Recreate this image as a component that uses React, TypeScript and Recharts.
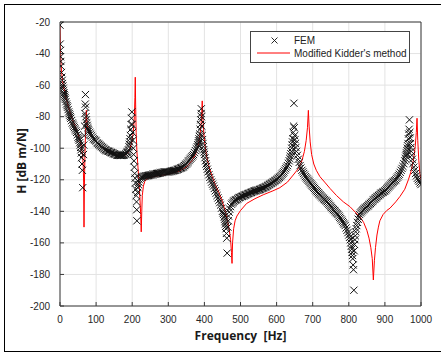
import { ComposedChart, Scatter, Line, XAxis, YAxis, CartesianGrid } from 'recharts';

// FEM results (x markers), [frequency Hz, H dB], split by mode
const femFirst: [number, number][] = [
  [0, -22], [0.5, -34], [1, -38], [1.5, -42], [2, -45], [3, -48], [4, -52], [5, -55], [6, -57], [7, -59],
  [8, -60.5], [9, -62], [10, -63.5], [11, -65], [12, -66], [13, -67], [14, -68], [15, -69], [16.5, -70.5], [18, -72],
  [19.5, -73], [21, -74], [22.5, -75.5], [24, -77], [25.5, -78], [27, -79], [28.5, -80], [30, -81], [32, -82.5], [34, -84],
  [36, -85], [38, -86], [40, -87], [42, -88], [44, -89], [46, -90], [48, -91.5], [50, -93], [51.5, -94], [53, -95],
  [54.5, -96.5], [56, -98], [57, -99.5], [58, -101], [59, -103], [60, -106], [61, -110], [62, -114], [63, -125], [65, -104],
  [66, -98], [67, -92], [68, -86], [69, -78], [70, -72], [70.5, -66], [71, -74], [72, -80], [73, -82], [74, -84],
  [75.5, -85.5], [77, -87], [78.5, -88], [80, -89], [82.5, -90], [85, -91], [87.5, -92], [90, -93], [92.5, -94], [95, -94.5],
  [97.5, -95], [100, -95.5], [102.5, -96.5], [105, -97], [107.5, -97.5], [110, -98], [112.5, -98.5], [115, -99], [117.5, -99.5], [120, -100],
  [122.5, -100.5], [125, -101], [127.5, -101.3], [130, -101.5], [132.5, -101.8], [135, -102], [137.5, -102.3], [140, -102.5], [142.5, -102.8], [145, -103],
  [147.5, -103.3], [150, -103.5], [152.5, -103.8], [155, -104], [157.5, -104.3], [160, -104.5], [162.5, -104.5], [165, -104.5], [167.5, -104.6], [170, -104.6],
  [172.5, -104.5], [175, -104.5], [177.5, -104.3], [180, -104], [182.5, -103.6], [185, -103], [186.5, -102.5], [188, -102], [189.5, -101], [191, -99],
  [192, -97.5], [193, -96], [194, -94], [195, -92], [196, -88], [197, -85], [198, -81], [199, -77], [200, -85], [201, -90],
  [202, -95], [203, -100], [204, -104], [205, -108], [206, -112], [207, -116], [208, -119], [209, -122], [210, -126], [211, -130],
  [212, -134], [212.5, -139], [213, -146],
];

const femSecond: [number, number][] = [
  [215, -128], [216, -125], [217, -123], [218.5, -121.5], [220, -120], [222.5, -119], [225, -118.5], [227.5, -118.2], [230, -118], [232.5, -117.8],
  [235, -117.7], [237.5, -117.6], [240, -117.5], [242.5, -117.4], [245, -117.3], [247.5, -117.1], [250, -117], [252.5, -116.9], [255, -116.8], [257.5, -116.6],
  [260, -116.5], [262.5, -116.4], [265, -116.3], [267.5, -116.1], [270, -116], [272.5, -115.9], [275, -115.8], [277.5, -115.6], [280, -115.5], [282.5, -115.4],
  [285, -115.3], [287.5, -115.1], [290, -115], [292.5, -115], [295, -115], [297.5, -115], [300, -115], [302.5, -114.9], [305, -114.8], [307.5, -114.6],
  [310, -114.5], [312.5, -114.4], [315, -114.2], [317.5, -114.1], [320, -114], [322.5, -113.8], [325, -113.5], [327.5, -113.3], [330, -113], [332.5, -112.8],
  [335, -112.5], [337.5, -112.3], [340, -112], [342.5, -111.5], [345, -111], [347.5, -110.5], [350, -110], [352.5, -109.3], [355, -108.5], [357.5, -107.8],
  [360, -107], [362.5, -106.3], [365, -105.5], [367.5, -104.8], [370, -104], [372.5, -102.8], [375, -101.5], [377.5, -100.3], [380, -99], [381.5, -97.8],
  [383, -96.5], [384, -95.3], [385, -94], [386, -92.5], [387, -91], [388, -88], [389, -85], [390, -82], [391, -78], [391.5, -75],
  [392, -80], [393, -86], [394, -92], [395, -94.5], [396, -97], [397, -99], [398, -101], [399, -102.5], [400, -104], [401.5, -106],
  [403, -108], [404.5, -110], [406, -111.5], [408, -113.3], [410, -115], [412.5, -116.8], [415, -118.5], [417.5, -120], [420, -121.5], [422.5, -122.8],
  [425, -124], [427.5, -125.5], [430, -127], [432.5, -128.5], [435, -130], [437.5, -131.5], [440, -133], [442.5, -134.5], [445, -136], [447.5, -138],
  [450, -140], [451.5, -141], [453, -142], [454.5, -143.5], [456, -145], [457, -146.5], [458, -148], [459, -149.5], [460, -151], [461, -154],
  [462, -157], [463, -166.5],
];

const femThird: [number, number][] = [
  [465, -150], [466, -146], [467, -143], [468.5, -140.5], [470, -138.5], [472.5, -137], [475, -135.5], [477.5, -134.7], [480, -134], [482.5, -133.5],
  [485, -133], [487.5, -132.7], [490, -132.5], [492.5, -132], [495, -131.5], [497.5, -131.2], [500, -131], [502.5, -130.7], [505, -130.5], [507.5, -130.2],
  [510, -130], [512.5, -129.7], [515, -129.5], [517.5, -129.2], [520, -129], [522.5, -128.7], [525, -128.5], [527.5, -128.2], [530, -128], [532.5, -127.7],
  [535, -127.5], [537.5, -127.2], [540, -127], [542.5, -126.9], [545, -126.7], [547.5, -126.6], [550, -126.5], [552.5, -126.2], [555, -126], [557.5, -125.7],
  [560, -125.5], [562.5, -125.2], [565, -125], [567.5, -124.7], [570, -124.5], [572.5, -124.1], [575, -123.8], [577.5, -123.4], [580, -123], [582.5, -122.6],
  [585, -122.3], [587.5, -121.9], [590, -121.5], [592.5, -121.1], [595, -120.8], [597.5, -120.4], [600, -120], [602.5, -119.5], [605, -119], [607.5, -118.5],
  [610, -118], [612.5, -117.3], [615, -116.5], [617.5, -115.8], [620, -115], [622.5, -114], [625, -113], [627.5, -112], [630, -111], [632.5, -109.5],
  [635, -108], [636.5, -106.5], [638, -105], [639.5, -103.5], [641, -102], [642, -100], [643, -98], [644, -96], [645, -94], [646, -90],
  [647, -86], [648, -71.5], [649, -87], [650, -92], [651, -94.5], [652, -97], [653.5, -99.5], [655, -102], [657.5, -104.5], [660, -107],
  [662.5, -109], [665, -111], [667.5, -112.5], [670, -114], [672.5, -115], [675, -116], [677.5, -117], [680, -118], [682.5, -118.8], [685, -119.5],
  [687.5, -120.3], [690, -121], [692.5, -121.8], [695, -122.5], [697.5, -123.3], [700, -124], [702.5, -124.8], [705, -125.5], [707.5, -126.3], [710, -127],
  [712.5, -127.6], [715, -128.3], [717.5, -128.9], [720, -129.5], [722.5, -130.1], [725, -130.8], [727.5, -131.4], [730, -132], [732.5, -132.5], [735, -133],
  [737.5, -133.5], [740, -134], [742.5, -134.8], [745, -135.5], [747.5, -136.3], [750, -137], [752.5, -137.6], [755, -138.3], [757.5, -138.9], [760, -139.5],
  [762.5, -140.1], [765, -140.8], [767.5, -141.4], [770, -142], [772.5, -142.9], [775, -143.8], [777.5, -144.6], [780, -145.5], [782.5, -146.4], [785, -147.3],
  [787.5, -148.1], [790, -149], [792.5, -150.5], [795, -152], [797.5, -153.5], [800, -155], [802, -156.5], [804, -158], [805.5, -160], [807, -162],
  [808, -164], [809, -166], [810, -168], [811, -170], [812, -174], [813, -177], [814, -190],
];

const femFourth: [number, number][] = [
  [815, -165], [816, -161], [817, -158], [818, -155.5], [819, -153], [820.5, -151], [822, -149], [824, -147], [826, -145], [828, -143.5],
  [830, -142], [832.5, -141], [835, -140.3], [837.5, -139.6], [840, -139], [842.5, -138.5], [845, -138], [847.5, -137.5], [850, -137], [852.5, -136.5],
  [855, -136], [857.5, -135.5], [860, -135], [862.5, -134.4], [865, -133.8], [867.5, -133.1], [870, -132.5], [872.5, -132], [875, -131.5], [877.5, -131],
  [880, -130.5], [882.5, -130], [885, -129.5], [887.5, -129], [890, -128.5], [892.5, -128.1], [895, -127.8], [897.5, -127.4], [900, -127], [902.5, -126.4],
  [905, -125.8], [907.5, -125.1], [910, -124.5], [912.5, -123.9], [915, -123.3], [917.5, -122.6], [920, -122], [922.5, -121.5], [925, -121], [927.5, -120.5],
  [930, -120], [932.5, -119.1], [935, -118.3], [937.5, -117.4], [940, -116.5], [942.5, -115.3], [945, -114], [947.5, -112.8], [950, -111.5], [952.5, -109.8],
  [955, -108], [956.5, -106.5], [958, -105], [959, -104], [960, -103], [961, -101.5], [962, -100], [963, -98.5], [964, -97], [965, -94],
  [966, -91], [967, -88], [968, -82], [969, -90], [970, -93.5], [971, -97], [972, -99.5], [973, -102], [974.5, -104.5], [976, -107],
  [978, -109.5], [980, -112], [982.5, -114], [985, -116], [987.5, -117.5], [990, -119], [992.5, -120], [995, -121], [997.5, -122], [1000, -123],
];

// Modified Kidder's method (red line)
const kidderHz = [
  0, 1, 2, 3, 5, 7, 10, 15, 20, 25,
  30, 35, 40, 45, 50, 55, 58, 61, 63, 64.5,
  65.5, 66.5, 67.5, 69, 70.5, 72, 73, 74, 76, 80,
  85, 90, 100, 110, 120, 130, 140, 150, 160, 170,
  180, 188, 194, 199, 203, 206, 207.5, 208.5, 209.5, 211,
  213, 216, 219, 221.5, 223.5, 225, 226.5, 228, 231, 235,
  240, 250, 270, 300, 330, 350, 365, 375, 382, 387,
  390.5, 392.5, 394, 395.5, 397.5, 401, 406, 412, 420, 430,
  440, 450, 458, 464, 469, 472.5, 475, 476.5, 478, 481,
  485, 490, 500, 517, 540, 563, 590, 609, 630, 646,
  660, 670, 677, 682, 685.5, 688, 690, 693, 697, 703,
  710, 720, 735, 748, 766, 785, 803, 820, 831, 841,
  850, 856, 861, 865, 868, 871, 874, 878, 882, 886,
  895, 905, 914, 930, 942, 955, 965, 972, 979, 984,
  987, 989, 991, 994, 997, 1000,
];
const kidderDb = [
  -22, -35, -42, -47, -53, -57, -61, -67, -71, -75,
  -79, -82, -85, -88, -91, -95, -98, -102, -106, -112,
  -122, -150, -125, -105, -92, -83, -76, -81, -86, -89,
  -91.5, -93, -95.5, -98, -100, -101.5, -102.5, -103.5, -104.5, -105,
  -104.5, -103, -100, -96, -90, -80, -68, -55, -72, -90,
  -102, -112, -122, -132, -142, -153, -140, -130, -124, -121,
  -119.5, -118.5, -117.5, -116.5, -114.5, -112, -108, -104, -99, -93,
  -86, -78, -70, -79, -88, -97, -105, -111, -117, -123,
  -128, -134, -140, -146, -152, -158, -166, -173, -160, -151,
  -146, -143, -139.5, -135, -132, -129.5, -127, -125, -121.5, -117,
  -113, -108, -102, -95, -87, -76, -86, -96, -104, -110,
  -114, -118, -122, -125.5, -130, -134, -137, -141, -143.5, -147,
  -152, -157, -163, -170, -183.5, -171, -163, -155, -150, -146,
  -142, -139.5, -138, -134, -130.5, -126, -120, -115, -107.5, -99,
  -90, -81, -95, -108, -116, -120,
];

const freqTicks = [0, 100, 200, 300, 400, 500, 600, 700, 800, 900, 1000];
const dbTicks = [-200, -180, -160, -140, -120, -100, -80, -60, -40, -20];

const femData = [...femFirst, ...femSecond, ...femThird, ...femFourth].map(([f, db]) => ({ f, db }));
const kidderData = kidderHz.map((f, i) => ({ f, db: kidderDb[i] }));

const tickFont = { fill: '#262626', fontSize: 10, fontFamily: '"Liberation Sans", Arial, sans-serif' };
const axisColor = '#3a3a3a';

const CrossMark = (props: any) => {
  const { cx, cy } = props;
  if (cx == null || cy == null) return null;
  const s = 3.6;
  return (
    <path
      d={`M${cx - s},${cy - s}L${cx + s},${cy + s}M${cx - s},${cy + s}L${cx + s},${cy - s}`}
      stroke="#111"
      strokeWidth={1}
      fill="none"
    />
  );
};

const App = () => {
  return (
    <div style={{ position: 'absolute', left: 0, top: 0, width: 441, height: 356, overflow: 'hidden', background: '#fff' }}>
      <div style={{ position: 'absolute', left: 4, top: 4, width: 470, height: 348, border: '1.5px solid #000', boxSizing: 'border-box' }} />
      <ComposedChart width={441} height={356} margin={{ top: 21, right: 19, bottom: 20, left: 10 }}>
        <CartesianGrid stroke="#e3e3e3" />
        <XAxis
          type="number"
          dataKey="f"
          domain={[0, 1000]}
          ticks={freqTicks}
          interval={0}
          height={30}
          tickSize={-4}
          tickMargin={13.5}
          stroke={axisColor}
          tick={tickFont}
          allowDataOverflow
        />
        <XAxis
          xAxisId="top"
          orientation="top"
          type="number"
          domain={[0, 1000]}
          ticks={freqTicks}
          interval={0}
          height={1}
          tickSize={-4}
          tick={false}
          stroke={axisColor}
        />
        <YAxis
          type="number"
          dataKey="db"
          domain={[-200, -20]}
          ticks={dbTicks}
          interval={0}
          width={50}
          tickSize={-4}
          tickMargin={14}
          stroke={axisColor}
          tick={tickFont}
          allowDataOverflow
        />
        <YAxis
          yAxisId="right"
          orientation="right"
          type="number"
          domain={[-200, -20]}
          ticks={dbTicks}
          interval={0}
          width={1}
          tickSize={-4}
          tick={false}
          stroke={axisColor}
        />
        <Scatter data={femData} shape={CrossMark} isAnimationActive={false} />
        <Line
          data={kidderData}
          dataKey="db"
          type="linear"
          stroke="#ff0000"
          strokeWidth={1}
          dot={false}
          isAnimationActive={false}
        />
      </ComposedChart>

      <div
        style={{
          position: 'absolute', left: 60, top: 327, width: 361, textAlign: 'center',
          fontFamily: '"Open Sans", sans-serif', fontWeight: 700, fontSize: 12, lineHeight: '18px', color: '#1a1a1a',
        }}
      >
        Frequency&nbsp; [Hz]
      </div>
      <div
        style={{
          position: 'absolute', left: 22, top: 161, transform: 'translate(-50%, -50%) rotate(-90deg)', whiteSpace: 'nowrap',
          fontFamily: '"Open Sans", sans-serif', fontWeight: 700, fontSize: 12, lineHeight: '18px', color: '#1a1a1a',
        }}
      >
        H [dB m/N]
      </div>

      <div
        style={{
          position: 'absolute', left: 250, top: 31, width: 160, height: 32, boxSizing: 'border-box',
          border: '1px solid #444', background: '#fff',
          fontFamily: '"Liberation Sans", Arial, sans-serif', fontSize: 10, color: '#222',
        }}
      >
        <svg width={158} height={30} style={{ position: 'absolute', left: 0, top: 0 }}>
          <path d="M20.5,5.5L26.5,11.5M20.5,11.5L26.5,5.5" stroke="#111" strokeWidth={0.9} fill="none" />
          <line x1={6} y1={21} x2={39} y2={21} stroke="#ff0000" strokeWidth={1} />
        </svg>
        <span style={{ position: 'absolute', left: 43, top: 3, lineHeight: '12px' }}>FEM</span>
        <span style={{ position: 'absolute', left: 43, top: 16, lineHeight: '12px', whiteSpace: 'nowrap' }}>
          Modified Kidder's method
        </span>
      </div>
    </div>
  );
};

export default App;
